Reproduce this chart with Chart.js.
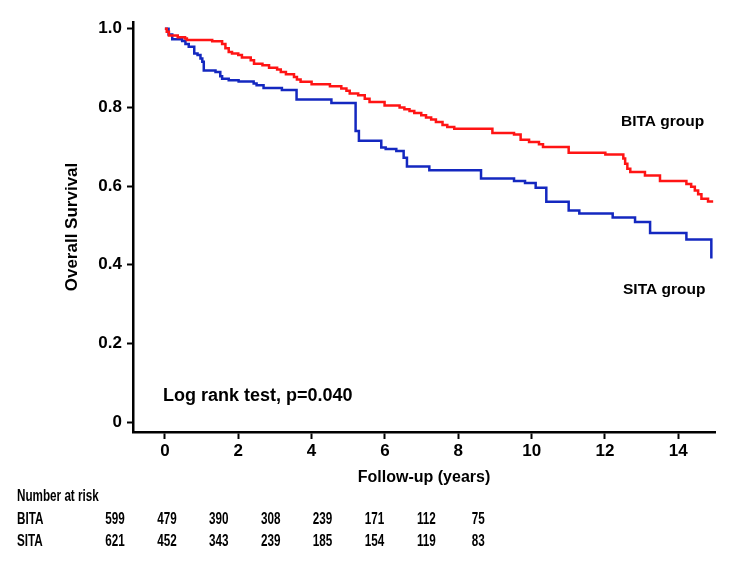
<!DOCTYPE html>
<html>
<head>
<meta charset="utf-8">
<script src="https://cdn.jsdelivr.net/npm/chart.js@4.4.1/dist/chart.umd.min.js"></script>
<style>
  body { margin: 0; background: #fff; }
  #wrap { width: 744px; height: 573px; }
</style>
</head>
<body>
<div id="wrap">
  <canvas id="kmChart" width="744" height="573"></canvas>
</div>
<script>
    // Kaplan-Meier steps (time in years, survival)
    var bitaTime = [0, 0.05, 0.11, 0.35, 0.55, 0.6, 1.29, 1.56, 1.65, 1.74, 1.83, 2.0, 2.1, 2.34, 2.43, 2.66, 2.84, 3.06, 3.16, 3.3, 3.52, 3.6, 3.7,
        4.0, 4.5, 4.81, 4.95, 5.04, 5.27, 5.45, 5.58, 5.99, 6.4, 6.53, 6.67, 6.8, 6.99, 7.12, 7.26, 7.39, 7.57, 7.7, 7.89,
        8.93, 9.52, 9.7, 9.93, 10.2, 10.31, 11.01, 12.01, 12.5, 12.55, 12.61, 12.69, 13.09, 13.5, 14.22, 14.35, 14.45, 14.54, 14.63, 14.81, 14.95];
    var bitaSurv = [1.0, 0.992, 0.983, 0.978, 0.975, 0.971, 0.968, 0.961, 0.950, 0.941, 0.937, 0.933, 0.927, 0.920, 0.911, 0.907, 0.901, 0.896, 0.890, 0.884, 0.877, 0.871, 0.865,
        0.859, 0.854, 0.848, 0.842, 0.835, 0.831, 0.822, 0.814, 0.805, 0.800, 0.795, 0.791, 0.786, 0.780, 0.774, 0.769, 0.763, 0.755, 0.750, 0.746,
        0.735, 0.731, 0.718, 0.712, 0.706, 0.699, 0.685, 0.680, 0.670, 0.657, 0.644, 0.636, 0.627, 0.613, 0.605, 0.598, 0.589, 0.579, 0.568, 0.561, 0.561];

    var sitaTime = [0, 0.1, 0.2, 0.47, 0.56, 0.65, 0.8, 0.89, 0.97, 1.02, 1.06, 1.38, 1.51, 1.56, 1.74, 2.01, 2.42, 2.5, 2.69, 3.19, 3.59,
        4.54, 5.2, 5.29, 5.9, 6.02, 6.31, 6.51, 6.6, 7.21, 8.62, 9.52, 9.82, 10.11, 10.4, 11.01, 11.3, 12.21, 12.82, 13.23, 14.22, 14.9];
    var sitaSurv = [1.0, 0.985, 0.973, 0.969, 0.961, 0.954, 0.937, 0.933, 0.924, 0.916, 0.894, 0.890, 0.879, 0.873, 0.869, 0.866, 0.861, 0.856, 0.849, 0.844, 0.820,
        0.811, 0.740, 0.715, 0.698, 0.694, 0.689, 0.672, 0.650, 0.640, 0.619, 0.613, 0.608, 0.596, 0.560, 0.538, 0.530, 0.520, 0.509, 0.481, 0.464, 0.416];

    var xTicks = [0, 2, 4, 6, 8, 10, 12, 14];
    var yTicks = [0, 0.2, 0.4, 0.6, 0.8, 1.0];

    // number at risk table
    var riskGroups = ['BITA', 'SITA'];
    var bitaRisk = [599, 479, 390, 308, 239, 171, 112, 75];
    var sitaRisk = [621, 452, 343, 239, 185, 154, 119, 83];

    var FONT = '"Liberation Sans", Arial, sans-serif';
    Chart.defaults.font.family = FONT;
    Chart.defaults.color = '#000';

    function toPoints(xs, ys) {
        return xs.map(function (t, i) { return { x: t, y: ys[i] }; });
    }

    // table text in the figure is condensed, squeeze it horizontally
    function narrowText(ctx, txt, x, y, align) {
        ctx.save();
        ctx.translate(x, y);
        ctx.scale(0.73, 1);
        ctx.textAlign = align;
        ctx.fillText(txt, 0, 0);
        ctx.restore();
    }

    var textPlugin = {
        id: 'kmText',
        afterDraw: function (chart) {
            var ctx = chart.ctx;
            ctx.save();
            ctx.fillStyle = '#000';
            ctx.textBaseline = 'alphabetic';
            ctx.textAlign = 'left';

            ctx.font = 'bold 18px ' + FONT;
            ctx.fillText('Log rank test, p=0.040', 163, 401);

            ctx.font = 'bold 15.5px ' + FONT;
            ctx.fillText('BITA group', 621, 126);
            ctx.fillText('SITA group', 623, 294);

            // risk table
            ctx.font = 'bold 16px ' + FONT;
            narrowText(ctx, 'Number at risk', 17, 501, 'left');
            var rows = [bitaRisk, sitaRisk];
            var rowY = [524, 546];
            rows.forEach(function (vals, r) {
                narrowText(ctx, riskGroups[r], 17, rowY[r], 'left');
                vals.forEach(function (v, i) {
                    narrowText(ctx, String(v), 115 + i * 51.9, rowY[r], 'center');
                });
            });
            ctx.restore();
        }
    };

    var chart = new Chart('kmChart', {
        type: 'line',
        data: {
            datasets: [{
                label: 'BITA',
                data: toPoints(bitaTime, bitaSurv),
                borderColor: '#ff1414',
                borderWidth: 2.5,
                stepped: true,
                pointRadius: 0,
                fill: false
            }, {
                label: 'SITA',
                data: toPoints(sitaTime, sitaSurv),
                borderColor: '#1428c0',
                borderWidth: 2.5,
                stepped: true,
                pointRadius: 0,
                fill: false
            }]
        },
        options: {
            animation: false,
            responsive: false,
            layout: { padding: { left: 0, right: 29, top: 22, bottom: 0 } },
            plugins: {
                legend: { display: false },
                tooltip: { enabled: false }
            },
            scales: {
                x: {
                    type: 'linear',
                    min: -0.87,
                    max: 15,
                    afterBuildTicks: function (s) { s.ticks = xTicks.map(function (v) { return { value: v }; }); },
                    afterFit: function (s) { s.height = 141; },
                    grid: { display: true, drawOnChartArea: false, drawTicks: true, tickLength: 7, tickColor: '#000', tickWidth: 2 },
                    border: { display: true, color: '#000', width: 2.5 },
                    ticks: {
                        font: { size: 17, weight: 'bold' },
                        color: '#000',
                        padding: 2,
                        maxRotation: 0,
                        callback: function (v) { return String(v); }
                    },
                    title: {
                        display: true,
                        text: 'Follow-up (years)',
                        font: { size: 16, weight: 'bold' },
                        color: '#000',
                        padding: { top: 0, bottom: 86 }
                    }
                },
                y: {
                    type: 'linear',
                    min: -0.025,
                    max: 1.017,
                    afterBuildTicks: function (s) { s.ticks = yTicks.map(function (v) { return { value: v }; }); },
                    afterFit: function (s) { s.width = 133; },
                    grid: { display: true, drawOnChartArea: false, drawTicks: true, tickLength: 6, tickColor: '#000', tickWidth: 2 },
                    border: { display: true, color: '#000', width: 2.5 },
                    ticks: {
                        font: { size: 17, weight: 'bold' },
                        color: '#000',
                        padding: 5,
                        callback: function (v) { return v === 0 ? '0' : v.toFixed(1); }
                    },
                    title: {
                        display: true,
                        text: 'Overall Survival',
                        font: { size: 17, weight: 'bold' },
                        color: '#000',
                        padding: { top: 62, bottom: 0 }
                    }
                }
            }
        },
        plugins: [textPlugin]
    });
</script>
</body>
</html>
